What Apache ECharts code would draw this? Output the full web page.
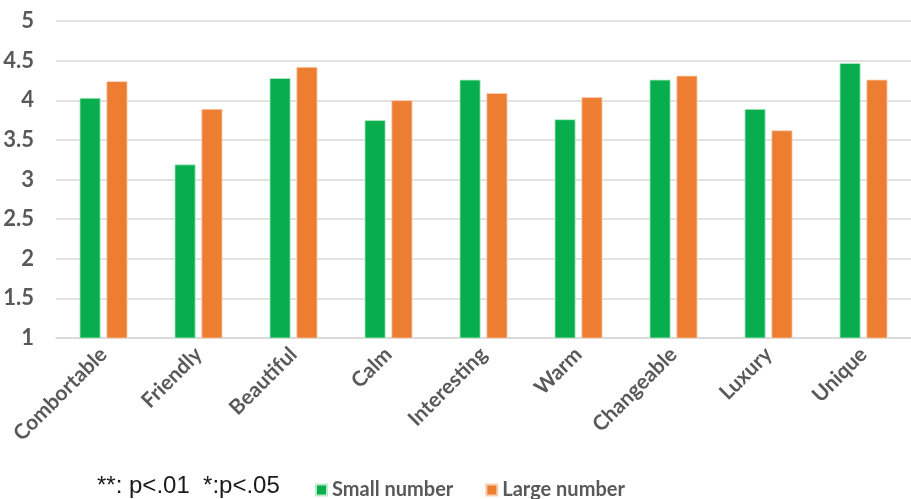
<!DOCTYPE html>
<html>
<head>
<meta charset="utf-8">
<script src="https://cdn.jsdelivr.net/npm/echarts@6/dist/echarts.min.js"></script>
<style>
  html, body { margin: 0; padding: 0; background: #ffffff; }
  #chart { width: 911px; height: 499px; }
</style>
</head>
<body>
<div id="chart"></div>
<script>
// Impression ratings per adjective, by group size
const categories = ['Combortable', 'Friendly', 'Beautiful', 'Calm', 'Interesting', 'Warm', 'Changeable', 'Luxury', 'Unique'];
const smallNumber = [4.03, 3.19, 4.28, 3.75, 4.26, 3.76, 4.26, 3.89, 4.47];
const largeNumber = [4.24, 3.89, 4.42, 4.00, 4.09, 4.04, 4.31, 3.62, 4.26];
const seriesNames = ['Small number', 'Large number'];
const noteText = '**: p<.01  *:p<.05';

const FONT = 'Lato, "Open Sans", sans-serif';
const GREY = '#595959';

const chart = echarts.init(document.getElementById('chart'), null, { renderer: 'canvas' });

chart.setOption({
  animation: false,
  backgroundColor: '#ffffff',
  grid: { left: 56, right: -12, top: 21, bottom: 161, containLabel: false },
  xAxis: {
    type: 'category',
    data: categories,
    axisLine: { show: true, lineStyle: { color: '#d9d9d9', width: 1.5 } },
    axisTick: { show: false },
    axisLabel: {
      rotate: 45,
      margin: 13,
      color: GREY,
      fontFamily: FONT,
      fontWeight: 'bold',
      fontSize: 21,
      interval: 0
    }
  },
  yAxis: {
    type: 'value',
    min: 1,
    max: 5,
    interval: 0.5,
    axisLine: { show: false },
    axisTick: { show: false },
    splitLine: { lineStyle: { color: '#d9d9d9', width: 1.5 } },
    axisLabel: {
      margin: 22,
      color: GREY,
      fontFamily: FONT,
      fontWeight: 'bold',
      fontSize: 22
    }
  },
  legend: {
    data: seriesNames,
    left: 310,
    top: 475,
    icon: 'rect',
    itemWidth: 11,
    itemHeight: 11,
    itemGap: 32,
    textStyle: { color: GREY, fontFamily: FONT, fontWeight: 'bold', fontSize: 20 }
  },
  graphic: [{
    type: 'text',
    left: 97,
    top: 474,
    style: { text: noteText, fill: '#1a1a1a', font: '24px "Liberation Sans", Arial, sans-serif' }
  }],
  series: [
    {
      name: seriesNames[0],
      type: 'bar',
      data: smallNumber,
      barWidth: 21,
      barGap: '28%',
      itemStyle: { color: '#08ae4e', borderColor: '#b8ecc9', borderWidth: 0.8 }
    },
    {
      name: seriesNames[1],
      type: 'bar',
      data: largeNumber,
      barWidth: 21,
      itemStyle: { color: '#ed7d31', borderColor: '#f8cfb2', borderWidth: 0.8 }
    }
  ]
});
</script>
</body>
</html>
